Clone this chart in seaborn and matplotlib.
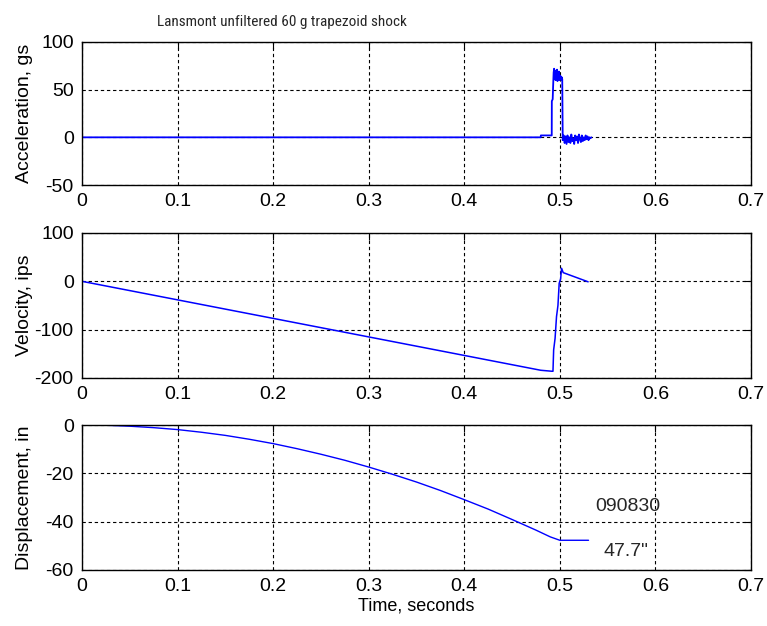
import matplotlib
matplotlib.use("Agg")
import matplotlib.pyplot as plt
from matplotlib import font_manager
import seaborn as sns
import pandas as pd

# ---------------- data ----------------
acc_time = [0.000, 0.4800, 0.4801, 0.4915, 0.4916, 0.4925, 0.4930,
            0.4935, 0.4940, 0.4945, 0.4950, 0.4955, 0.4960, 0.4965, 0.4970,
            0.4975, 0.4980, 0.4985, 0.4990, 0.4995, 0.5000, 0.5005, 0.5010,
            0.5015, 0.5020, 0.5025,
            0.503, 0.504, 0.505, 0.506, 0.507, 0.508, 0.509, 0.510, 0.511,
            0.512, 0.513, 0.514, 0.515, 0.516, 0.517, 0.518, 0.519, 0.520,
            0.521, 0.522, 0.523, 0.524, 0.525, 0.526, 0.527, 0.528, 0.529,
            0.530, 0.531, 0.532, 0.533]
acc_g = [0, 0, 2, 2, 38, 40, 55,
         68, 72, 62, 70, 60, 68, 63, 71, 59, 66, 62, 69, 60, 65, 61, 64,
         60, 63, 61,
         -3, 2, -6, 1, -7, 2, -5, 0, -6, 3, -4, -1, -7, 2, -3, 1, -6, 3,
         -2, -5, 2, -4, 0, -3, 2, -2, 1, -3, 0, -1, 0]

vel_time = [0.000, 0.4800, 0.4915, 0.4928, 0.4935, 0.4950, 0.4965, 0.4980,
            0.4993, 0.5008, 0.5018, 0.5035, 0.5296]
vel_ips = [0, -184, -186, -186, -142, -118, -73, -50,
           -4, 5, 27, 18, -1]

disp_time = [0.000, 0.025, 0.050, 0.075, 0.100, 0.125, 0.150, 0.175,
             0.200, 0.225, 0.250, 0.275, 0.300, 0.325, 0.350, 0.375,
             0.400, 0.425, 0.450, 0.475, 0.490, 0.500, 0.530]
disp_in = [0.0, -0.1, -0.5, -1.1, -1.9, -3.0, -4.3, -5.9,
           -7.7, -9.8, -12.1, -14.6, -17.4, -20.4, -23.6, -27.1,
           -30.9, -34.8, -39.1, -43.5, -46.3, -47.7, -47.7]

x_ticks = [0, 0.1, 0.2, 0.3, 0.4, 0.5, 0.6, 0.7]
x_tick_labels = ["0", "0.1", "0.2", "0.3", "0.4", "0.5", "0.6", "0.7"]
acc_ticks = [-50, 0, 50, 100]
vel_ticks = [-200, -100, 0, 100]
disp_ticks = [-60, -40, -20, 0]

title_text = "Lansmont unfiltered 60 g trapezoid shock"
ylabels = ["Acceleration, gs", "Velocity, ips", "Displacement, in"]
xlabel_text = "Time, seconds"
note_id = "090830"
note_val = '47.7"'

# ---------------- style ----------------
sns.set_style("white")
plt.rcParams["font.family"] = ["Liberation Sans", "DejaVu Sans"]
FONT = "Liberation Sans"

# narrow font for the title if one is installed
names = {f.name for f in font_manager.fontManager.ttflist}
title_family, title_size = ["Liberation Sans"], 10.3
for cand in ["Liberation Sans Narrow", "Arial Narrow", "Roboto Condensed",
             "Open Sans Condensed", "DejaVu Sans Condensed"]:
    if cand in names:
        title_family, title_size = [cand], 11.0
        break

W, H = 767, 626
fig = plt.figure(figsize=(W / 100, H / 100), dpi=100)

def fbox(top_px, bottom_px, left_px=82, right_px=751):
    return [left_px / W, 1 - bottom_px / H, (right_px - left_px) / W,
            (bottom_px - top_px) / H]

ax1 = fig.add_axes(fbox(42, 185))
ax2 = fig.add_axes(fbox(233, 378))
ax3 = fig.add_axes(fbox(425, 570))

df_acc = pd.DataFrame({"t": acc_time, "v": acc_g})
df_vel = pd.DataFrame({"t": vel_time, "v": vel_ips})
df_disp = pd.DataFrame({"t": disp_time, "v": disp_in})

sns.lineplot(data=df_acc, x="t", y="v", ax=ax1, color=(0, 0, 1), lw=1.3,
             estimator=None, sort=False)
sns.lineplot(data=df_vel, x="t", y="v", ax=ax2, color=(0, 0, 1), lw=1.1,
             estimator=None, sort=False)
sns.lineplot(data=df_disp, x="t", y="v", ax=ax3, color=(0, 0, 1), lw=1.0,
             estimator=None, sort=False)

for ax, yt, lab in zip([ax1, ax2, ax3], [acc_ticks, vel_ticks, disp_ticks], ylabels):
    ax.set_xlim(0, 0.7)
    ax.set_ylim(yt[0], yt[-1])
    ax.set_xticks(x_ticks)
    ax.set_xticklabels(x_tick_labels)
    ax.set_yticks(yt)
    ax.set_yticklabels([str(v) for v in yt])
    ax.tick_params(direction="in", top=True, right=True, length=5, width=0.8,
                   color="black", labelsize=14, pad=6, labelcolor="black")
    ax.grid(True, color="black", linestyle=(0, (3, 2.5)), linewidth=0.8)
    for sp in ax.spines.values():
        sp.set_visible(True)
        sp.set_color("black")
        sp.set_linewidth(1.0)
    ax.set_xlabel("")
    ax.set_ylabel(lab, fontsize=14, color="black")
    ax.yaxis.set_label_coords(-0.073, 0.5)
    for t in ax.get_xticklabels() + ax.get_yticklabels():
        t.set_family(FONT)

ax3.set_xlabel(xlabel_text, fontsize=13, color="black")
ax3.xaxis.set_label_coords(0.5, -0.19)

ax3.text(0.5366, -35.5, note_id, fontsize=14, ha="left", va="baseline")
ax3.text(0.546, -54.2, note_val, fontsize=14, ha="left", va="baseline")

fig.text(282 / W, 1 - 26 / H, title_text, family=title_family,
         fontsize=title_size, ha="center", va="baseline")

fig.savefig("out.png", dpi=100)
